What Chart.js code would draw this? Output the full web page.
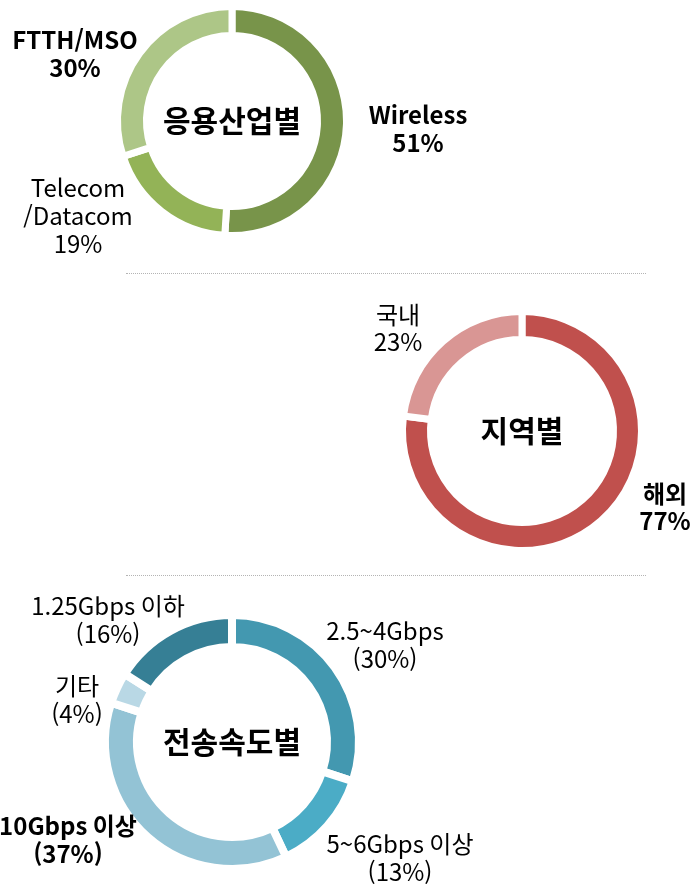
<!DOCTYPE html>
<html lang="ko">
<head>
<meta charset="utf-8">
<script src="https://cdn.jsdelivr.net/npm/chart.js@4.4.1/dist/chart.umd.min.js"></script>
<style>
  html, body { margin: 0; padding: 0; background: #fff; }
  #page { position: relative; width: 694px; height: 884px; overflow: hidden; }
  canvas { position: absolute; left: 0; }
  .sep { position: absolute; left: 126px; width: 520px; border-top: 1px dotted #b4b4b4; }
</style>
</head>
<body>
<div id="page">
  <canvas id="chartIndustry" width="694" height="273" style="top:0"></canvas>
  <div class="sep" style="top:273px"></div>
  <canvas id="chartRegion" width="694" height="302" style="top:273px"></canvas>
  <div class="sep" style="top:575px"></div>
  <canvas id="chartSpeed" width="694" height="309" style="top:575px"></canvas>
</div>
<script>
// 응용산업별
const industryLabels = ["Wireless", "Telecom\n/Datacom", "FTTH/MSO"];
const industryValues = [51, 19, 30];
const industryColors = ["#78944a", "#93b357", "#adc687"];

// 지역별
const regionLabels = ["해외", "국내"];
const regionValues = [77, 23];
const regionColors = ["#c0504d", "#d99694"];

// 전송속도별
const speedLabels = ["2.5~4Gbps", "5~6Gbps 이상", "10Gbps 이상", "기타", "1.25Gbps 이하"];
const speedValues = [30, 13, 37, 4, 16];
const speedColors = ["#4398b0", "#4bacc6", "#93c3d5", "#b9d8e5", "#367f95"];

const FONT = "'Noto Sans CJK KR', 'Noto Sans', sans-serif";
const W = 694;

// label text block: where each category label sits, bold or not
const labelPlugin = {
  id: "sliceLabels",
  afterDraw(chart) {
    const o = chart.options.plugins.sliceLabels;
    const ctx = chart.ctx;
    const labels = chart.data.labels;
    const values = chart.data.datasets[0].data;
    ctx.save();
    ctx.fillStyle = "#000";
    ctx.textAlign = "center";
    ctx.textBaseline = "middle";

    const cx = (chart.chartArea.left + chart.chartArea.right) / 2;
    const cy = (chart.chartArea.top + chart.chartArea.bottom) / 2;
    ctx.font = `bold ${o.titleSize}px ${FONT}`;
    ctx.fillText(o.title, cx, cy);

    o.spots.forEach((spot, i) => {
      const pct = o.paren ? `(${values[i]}%)` : `${values[i]}%`;
      const lines = labels[i].split("\n").concat(pct);
      ctx.font = `${spot.bold ? "bold " : ""}${o.size}px ${FONT}`;
      lines.forEach((line, k) => {
        ctx.fillText(line, spot.x, spot.y + k * o.lineHeight);
      });
    });
    ctx.restore();
  },
};

function makeDoughnut(id, labels, values, colors, box, extra) {
  const canvas = document.getElementById(id);
  const h = canvas.height;
  return new Chart(canvas, {
    type: "doughnut",
    data: {
      labels,
      datasets: [{
        data: values,
        backgroundColor: colors,
        borderColor: "#ffffff",
        borderWidth: box.gap,
        borderJoinStyle: "miter",
      }],
    },
    options: {
      responsive: false,
      animation: false,
      cutout: box.inner,
      layout: {
        padding: {
          left: box.left,
          top: box.top,
          right: W - box.left - box.size,
          bottom: h - box.top - box.size,
        },
      },
      plugins: {
        legend: { display: false },
        tooltip: { enabled: false },
        sliceLabels: extra,
      },
    },
    plugins: [labelPlugin],
  });
}

makeDoughnut("chartIndustry", industryLabels, industryValues, industryColors,
  { left: 114, top: 3, size: 236, inner: 85.5, gap: 7 },
  {
    title: "응용산업별", titleSize: 30, size: 24, lineHeight: 28, paren: false,
    spots: [
      { x: 418, y: 115, bold: true },
      { x: 78, y: 188, bold: false },
      { x: 75, y: 40, bold: true },
    ],
  });

makeDoughnut("chartRegion", regionLabels, regionValues, regionColors,
  { left: 399, top: 35, size: 246, inner: 91.5, gap: 7 },
  {
    title: "지역별", titleSize: 30, size: 24, lineHeight: 27, paren: false,
    spots: [
      { x: 665, y: 221, bold: true },
      { x: 398, y: 42, bold: false },
    ],
  });

makeDoughnut("chartSpeed", speedLabels, speedValues, speedColors,
  { left: 101, top: 36, size: 262, inner: 95, gap: 8 },
  {
    title: "전송속도별", titleSize: 30, size: 24, lineHeight: 28, paren: true,
    spots: [
      { x: 385, y: 56, bold: false },
      { x: 400, y: 269, bold: false },
      { x: 68, y: 251, bold: true },
      { x: 77, y: 111, bold: false },
      { x: 108, y: 31, bold: false },
    ],
  });
</script>
</body>
</html>
